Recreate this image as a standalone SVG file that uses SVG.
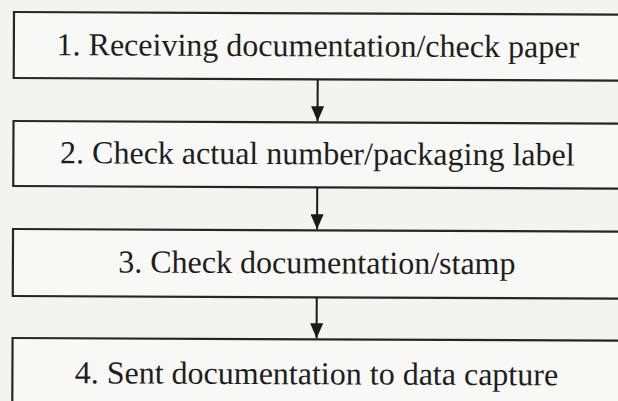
<svg xmlns="http://www.w3.org/2000/svg" width="618" height="401" viewBox="0 0 618 401">
  <defs>
    <marker id="arrowhead" viewBox="0 0 15 13" refX="15" refY="6.5" markerWidth="15" markerHeight="13" markerUnits="userSpaceOnUse" orient="auto">
      <path d="M0,0 L15,6.5 L0,13 Z" fill="#1a1a1a"/>
    </marker>
    <style>
      .step { fill: #f8f8f6; stroke: #262626; stroke-width: 2.2; }
      .label { font-family: "Liberation Serif", "Times New Roman", serif; font-size: 32px; fill: #1e1e1e; text-anchor: middle; }
      .link { stroke: #1a1a1a; stroke-width: 2; fill: none; }
    </style>
  </defs>

  <rect x="0" y="0" width="618" height="401" fill="#f3f3f1"/>

  <g transform="rotate(0.25 14 12)">
    <g id="step1">
      <rect class="step" x="14" y="12" width="620" height="66"/>
      <text class="label" x="318" y="55">1. Receiving documentation/check paper</text>
    </g>
    <g id="step2">
      <rect class="step" x="14" y="121" width="620" height="65"/>
      <text class="label" x="318" y="163">2. Check actual number/packaging label</text>
    </g>
    <g id="step3">
      <rect class="step" x="14" y="229" width="620" height="67"/>
      <text class="label" x="318" y="272">3. Check documentation/stamp</text>
    </g>
    <g id="step4">
      <rect class="step" x="14" y="338" width="620" height="80"/>
      <text class="label" x="318" y="383">4. Sent documentation to data capture</text>
    </g>

    <g id="connectors">
      <line class="link" x1="318" y1="78" x2="318" y2="120" marker-end="url(#arrowhead)"/>
      <line class="link" x1="318" y1="186" x2="318" y2="228" marker-end="url(#arrowhead)"/>
      <line class="link" x1="318" y1="296" x2="318" y2="337" marker-end="url(#arrowhead)"/>
    </g>
  </g>
</svg>
